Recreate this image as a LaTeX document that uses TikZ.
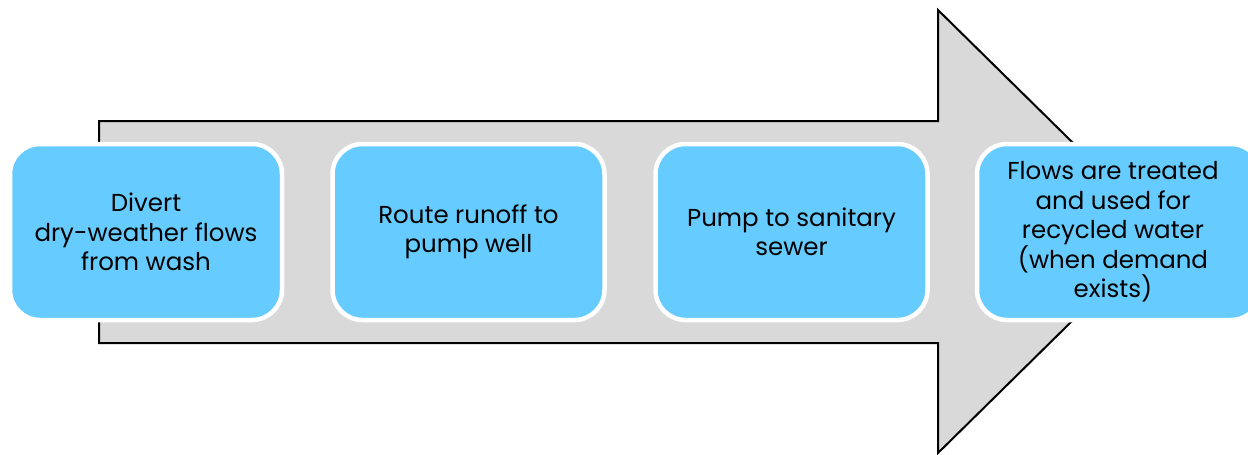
\documentclass[tikz,border=0pt]{standalone}
\usepackage{fontspec}
\setmainfont{Poppins}
\definecolor{boxblue}{HTML}{66CCFF}
\definecolor{arrowgray}{HTML}{D9D9D9}
\begin{document}
\begin{tikzpicture}[x=1pt,y=-1pt,
  stepbox/.style={draw=white, line width=4.5pt, fill=boxblue, rounded corners=30pt,
    minimum width=272pt, minimum height=176pt, inner sep=0pt, align=center,
    font=\fontsize{24.5}{29.5}\selectfont, text=black},
  bigarrow/.style={draw=black, line width=2pt, fill=arrowgray, line join=miter}]
\useasboundingbox (0,0) rectangle (1248,455);
\coordinate (p1) at (99,121);
\coordinate (p2) at (938,121);
\coordinate (p3) at (938,10);
\coordinate (tip) at (1163,231.5);
\coordinate (p5) at (938,453);
\coordinate (p6) at (938,343);
\coordinate (p7) at (99,343);
\draw[bigarrow] (p1) -- (p2) -- (p3) -- (tip) -- (p5) -- (p6) -- (p7) -- cycle;
\node[stepbox] (b1) at (146,232) {Divert\\dry-weather flows\\from wash};
\node[stepbox] (b2) at (468.5,232) {Route runoff to\\pump well};
\node[stepbox] (b3) at (791.5,232) {Pump to sanitary\\sewer};
\node[stepbox, minimum width=284pt] (b4) at (1119,232) {\hspace*{-12pt}Flows are treated\\\hspace*{-12pt}and used for\\\hspace*{-12pt}recycled water\\\hspace*{-12pt}(when demand\\\hspace*{-12pt}exists)};
\end{tikzpicture}
\end{document}
